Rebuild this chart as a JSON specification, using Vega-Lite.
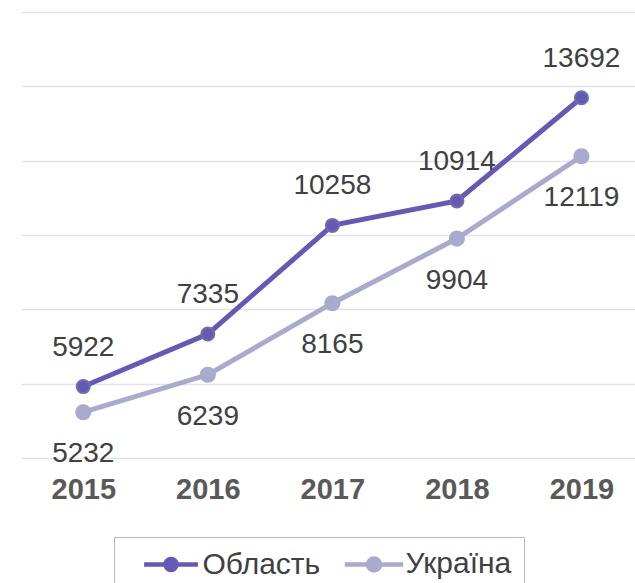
{
  "$schema": "https://vega.github.io/schema/vega-lite/v6.json",
  "width": 614,
  "height": 446,
  "autosize": {"type": "none"},
  "padding": {"left": 21, "top": 12, "right": 0, "bottom": 125},
  "background": "#ffffff",
  "config": {
    "view": {"stroke": null},
    "font": "Liberation Sans",
    "text": {"font": "Liberation Sans"}
  },
  "data": {
    "values": [
      {"year": 2015, "series": "Область", "value": 5922},
      {"year": 2016, "series": "Область", "value": 7335},
      {"year": 2017, "series": "Область", "value": 10258},
      {"year": 2018, "series": "Область", "value": 10914},
      {"year": 2019, "series": "Область", "value": 13692},
      {"year": 2015, "series": "Україна", "value": 5232},
      {"year": 2016, "series": "Україна", "value": 6239},
      {"year": 2017, "series": "Україна", "value": 8165},
      {"year": 2018, "series": "Україна", "value": 9904},
      {"year": 2019, "series": "Україна", "value": 12119}
    ]
  },
  "encoding": {
    "x": {
      "field": "year",
      "type": "quantitative",
      "scale": {"domain": [2014.5, 2019.43], "nice": false, "zero": false},
      "axis": {
        "title": null,
        "values": [2015, 2016, 2017, 2018, 2019],
        "format": "d",
        "grid": false,
        "domain": false,
        "ticks": false,
        "labelFont": "Liberation Sans",
        "labelFontSize": 29,
        "labelFontWeight": "bold",
        "labelColor": "#595959",
        "labelBaseline": "middle",
        "labelPadding": 31,
        "labelFlush": false
      }
    },
    "y": {
      "field": "value",
      "type": "quantitative",
      "scale": {"domain": [4000, 16000], "nice": false, "zero": false},
      "axis": {
        "title": null,
        "values": [4000, 6000, 8000, 10000, 12000, 14000, 16000],
        "labels": false,
        "ticks": false,
        "domain": false,
        "grid": true,
        "gridColor": "#E3E3E3",
        "gridWidth": 1.5
      }
    }
  },
  "layer": [
    {
      "mark": {"type": "line", "strokeWidth": 5},
      "encoding": {
        "color": {
          "field": "series",
          "type": "nominal",
          "scale": {"domain": ["Область", "Україна"], "range": ["#6559B8", "#AAAACE"]},
          "legend": {
            "title": " ",
            "titleOrient": "left",
            "titleFontSize": 1,
            "titlePadding": 30,
            "orient": "none",
            "direction": "horizontal",
            "legendX": 93,
            "legendY": 525,
            "padding": 12,
            "strokeColor": "#B5B5DA",
            "fillColor": "#ffffff",
            "symbolType": "M-4.125,0L4.125,0M-0.85,0A0.85,0.85 0 1 1 0.85,0A0.85,0.85 0 1 1 -0.85,0Z",
            "symbolSize": 400,
            "symbolStrokeWidth": 4.5,
            "labelOffset": 16.5,
            "columnPadding": 14,
            "labelFont": "Liberation Sans",
            "labelFontSize": 30,
            "labelColor": "#404040",
            "labelExpr": "datum.label === 'Україна' ? datum.label + '\u00a0\u2009\u2009\u2009' : datum.label",
            "encode": {
              "symbols": {
                "update": {
                  "fill": {"scale": "color", "field": "value"},
                  "stroke": {"scale": "color", "field": "value"},
                  "size": {"value": 400}
                }
              }
            }
          }
        }
      }
    },
    {
      "mark": {"type": "point", "filled": true, "opacity": 1, "strokeWidth": 2},
      "encoding": {
        "color": {"field": "series", "type": "nominal"},
        "stroke": {
          "field": "series",
          "type": "nominal",
          "scale": {"domain": ["Область", "Україна"], "range": ["#716DA8", "#AAAACE"]},
          "legend": null
        },
        "size": {
          "field": "series",
          "type": "nominal",
          "scale": {"domain": ["Область", "Україна"], "range": [170, 200]},
          "legend": null
        }
      }
    },
    {
      "transform": [{"filter": "datum.series === 'Область'"}],
      "mark": {"type": "text", "fontSize": 28, "color": "#404040", "baseline": "middle", "dy": -39, "font": "Liberation Sans"},
      "encoding": {"text": {"field": "value", "type": "quantitative", "format": "d"}}
    },
    {
      "transform": [{"filter": "datum.series === 'Україна'"}],
      "mark": {"type": "text", "fontSize": 28, "color": "#404040", "baseline": "middle", "dy": 42, "font": "Liberation Sans"},
      "encoding": {"text": {"field": "value", "type": "quantitative", "format": "d"}}
    }
  ]
}
